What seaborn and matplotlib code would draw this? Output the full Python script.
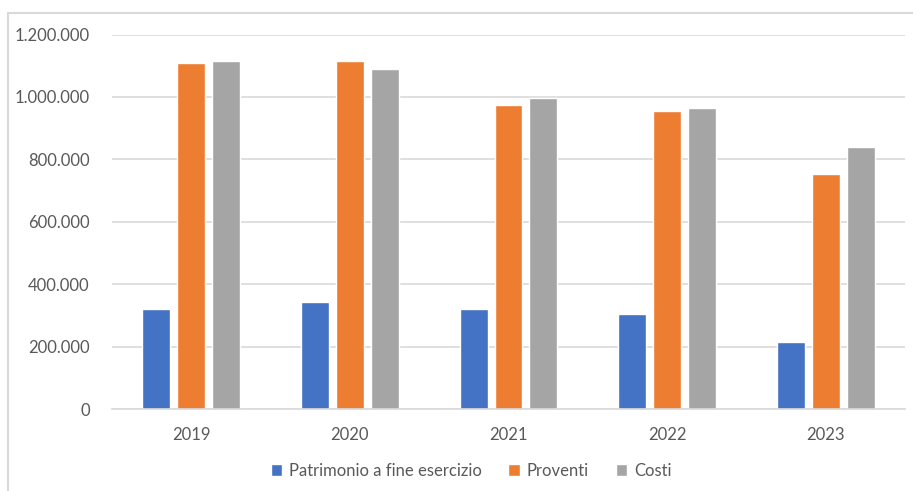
import pandas as pd
import numpy as np
import matplotlib.pyplot as plt
import seaborn as sns
from matplotlib.patches import Rectangle
from matplotlib.ticker import FuncFormatter

# dati
anni = ['2019', '2020', '2021', '2022', '2023']
patrimonio = [319000, 343000, 319000, 304000, 216000]
proventi = [1109000, 1115000, 973000, 954000, 753000]
costi = [1115000, 1090000, 998000, 965000, 839000]
serie = ['Patrimonio a fine esercizio', 'Proventi', 'Costi']
colori = ['#4472C4', '#ED7D31', '#A5A5A5']

df = pd.DataFrame({'anno': anni * 3,
                   'serie': np.repeat(serie, len(anni)),
                   'valore': patrimonio + proventi + costi})

sns.set_style('white')
plt.rcParams['font.family'] = ['Lato', 'DejaVu Sans']

fig = plt.figure(figsize=(9.13, 4.91), dpi=100)
ax = fig.add_axes([112 / 913, 1 - 409 / 491, (905 - 112) / 913, (409 - 34.5) / 491])

sns.barplot(data=df, x='anno', y='valore', hue='serie', hue_order=serie,
            palette=colori, width=0.66, gap=0.2, saturation=1, errorbar=None, ax=ax)

ax.set_ylim(0, 1200000)
ax.set_yticks(range(0, 1200001, 200000))
ax.yaxis.set_major_formatter(FuncFormatter(lambda v, p: f'{int(v):,}'.replace(',', '.')))
ax.grid(axis='y', color='#d9d9d9', lw=1.2)
ax.set_axisbelow(True)
for s in ['left', 'right', 'top']:
    ax.spines[s].set_visible(False)
ax.spines['bottom'].set_color('#d9d9d9')
ax.spines['bottom'].set_linewidth(1.2)
ax.tick_params(axis='both', length=0, labelsize=12, labelcolor='#595959')
ax.tick_params(axis='y', pad=16)
ax.tick_params(axis='x', pad=13)
ax.set_xlabel('')
ax.set_ylabel('')

handles, labels = ax.get_legend_handles_labels()
ax.legend_.remove()
fig.legend(handles, labels, loc='center', bbox_to_anchor=(471 / 913, 1 - 471 / 491), ncol=3,
           frameon=False, fontsize=12, labelcolor='#595959', handlelength=0.7, handleheight=0.7,
           handletextpad=0.4, columnspacing=1.6)

# bordo dell'area grafico
fig.patches.append(Rectangle((8 / 913, -0.1), 1.2, 1 - 12.5 / 491 + 0.1, transform=fig.transFigure,
                             fill=False, edgecolor='#d9d9d9', lw=1.5))

fig.savefig('out.png', dpi=100)
